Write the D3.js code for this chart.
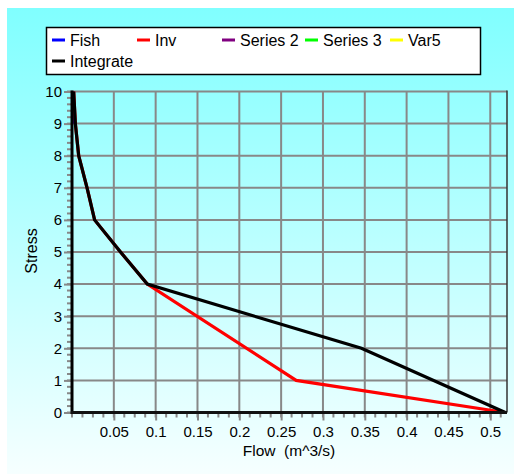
<!DOCTYPE html>
<html><head><meta charset="utf-8">
<script src="https://cdn.jsdelivr.net/npm/d3@7"></script>
<style>body{margin:0;background:#fff;}svg{display:block;font-family:"Liberation Sans",Arial,sans-serif;}</style>
</head><body><svg id="c" width="514" height="474"></svg>
<script>
// Data
const seriesNames = ["Fish","Inv","Series 2","Series 3","Var5","Integrate"];
const seriesColors = ["#0000ff","#ff0000","#800080","#00ff00","#ffff00","#000000"];
const fishFlow = [0.001, 0.003];
const fishStress = [10, 9];
const invFlow = [0.002, 0.004, 0.008, 0.018, 0.027, 0.058, 0.09, 0.268, 0.518];
const invStress = [10, 9, 8, 7, 6, 5, 4, 1, 0];
const integrateFlow = [0.002, 0.004, 0.008, 0.018, 0.027, 0.058, 0.09, 0.346, 0.518];
const integrateStress = [10, 9, 8, 7, 6, 5, 4, 2, 0];
const xTicks = [0.05,0.1,0.15,0.2,0.25,0.3,0.35,0.4,0.45,0.5];
const yTicks = [0,1,2,3,4,5,6,7,8,9,10];

const svg = d3.select("#c");
const defs = svg.append("defs");
const g = defs.append("linearGradient").attr("id","bg").attr("x1",0).attr("y1",0).attr("x2",0).attr("y2",1);
g.append("stop").attr("offset","0%").attr("stop-color","#80ffff");
g.append("stop").attr("offset","100%").attr("stop-color","#f6ffff");
svg.append("rect").attr("x",7).attr("y",8).attr("width",507).attr("height",466).attr("fill","url(#bg)");

const L=72, R=507, T=91.5, B=412.5;
const x = d3.scaleLinear().domain([0,0.52]).range([L,R]);
const y = d3.scaleLinear().domain([0,10]).range([B,T]);

// grid
const grid = svg.append("g").attr("stroke","#888").attr("stroke-width",2);
xTicks.forEach(v=>grid.append("line").attr("x1",x(v)).attr("x2",x(v)).attr("y1",T).attr("y2",B));
yTicks.filter(v=>v>0).forEach(v=>grid.append("line").attr("x1",L).attr("x2",R).attr("y1",y(v)).attr("y2",y(v)));

// right border
svg.append("line").attr("x1",R).attr("x2",R).attr("y1",T-1).attr("y2",B).attr("stroke","#333").attr("stroke-width",1.5);

// minor ticks
const minorX = d3.range(0,0.52,0.0125);
const minorY = d3.range(0,10.01,0.2);
const ax = svg.append("g").attr("stroke","#888").attr("stroke-width",2);
minorX.forEach(v=>ax.append("line").attr("x1",x(v)).attr("x2",x(v)).attr("y1",B).attr("y2",B+5));
minorY.forEach(v=>ax.append("line").attr("x1",L).attr("x2",L-5).attr("y1",y(v)).attr("y2",y(v)));

// axes with d3 axis
const xAxis = svg.append("g").attr("transform",`translate(0,${B})`)
  .call(d3.axisBottom(x).tickValues(xTicks).tickSize(8).tickPadding(6).tickFormat(d3.format("")));
const yAxis = svg.append("g").attr("transform",`translate(${L},0)`)
  .call(d3.axisLeft(y).tickValues(yTicks).tickSize(8).tickPadding(2).tickFormat(d3.format("d")));
[xAxis,yAxis].forEach(a=>{
  a.select(".domain").remove();
  a.selectAll(".tick line").attr("stroke","#888").attr("stroke-width",2);
  a.selectAll(".tick text").attr("fill","#000").style("font-size","15px").style("font-family","Liberation Sans, Arial, sans-serif");
});

// series lines
const line = d3.line().x(d=>x(d[0])).y(d=>y(d[1]));
const zip=(a,b)=>a.map((v,i)=>[v,b[i]]);
svg.append("path").datum(zip(fishFlow,fishStress)).attr("d",line).attr("fill","none").attr("stroke",seriesColors[0]).attr("stroke-width",3);
svg.append("path").datum(zip(invFlow,invStress)).attr("d",line).attr("fill","none").attr("stroke",seriesColors[1]).attr("stroke-width",3.2);
svg.append("path").datum(zip(integrateFlow,integrateStress)).attr("d",line).attr("fill","none").attr("stroke",seriesColors[5]).attr("stroke-width",3.2);

// axis lines
svg.append("line").attr("x1",L).attr("x2",L).attr("y1",T-1).attr("y2",B+1.5).attr("stroke","#000").attr("stroke-width",3);
svg.append("line").attr("x1",L-1).attr("x2",R).attr("y1",B).attr("y2",B).attr("stroke","#111").attr("stroke-width",3);

// axis titles
svg.append("text").attr("x",289).attr("y",456).attr("text-anchor","middle").style("font-size","15.5px").attr("xml:space","preserve").text("Flow  (m^3/s)");
svg.append("text").attr("transform","translate(37,251) rotate(-90)").attr("text-anchor","middle").style("font-size","16px").text("Stress");

// legend
svg.append("rect").attr("x",46.5).attr("y",27.5).attr("width",434).attr("height",47).attr("fill","#fff").attr("stroke","#000").attr("stroke-width",1.5);
const legPos = [[52,40],[137,40],[222,40],[305,40],[390,40],[52,61]];
seriesNames.forEach((n,i)=>{
  const [lx,ly]=legPos[i];
  svg.append("line").attr("x1",lx).attr("x2",lx+13).attr("y1",ly).attr("y2",ly).attr("stroke",seriesColors[i]).attr("stroke-width",3);
  svg.append("text").attr("x",lx+18).attr("y",ly+5.5).style("font-size","16px").text(n);
});
</script></body></html>
